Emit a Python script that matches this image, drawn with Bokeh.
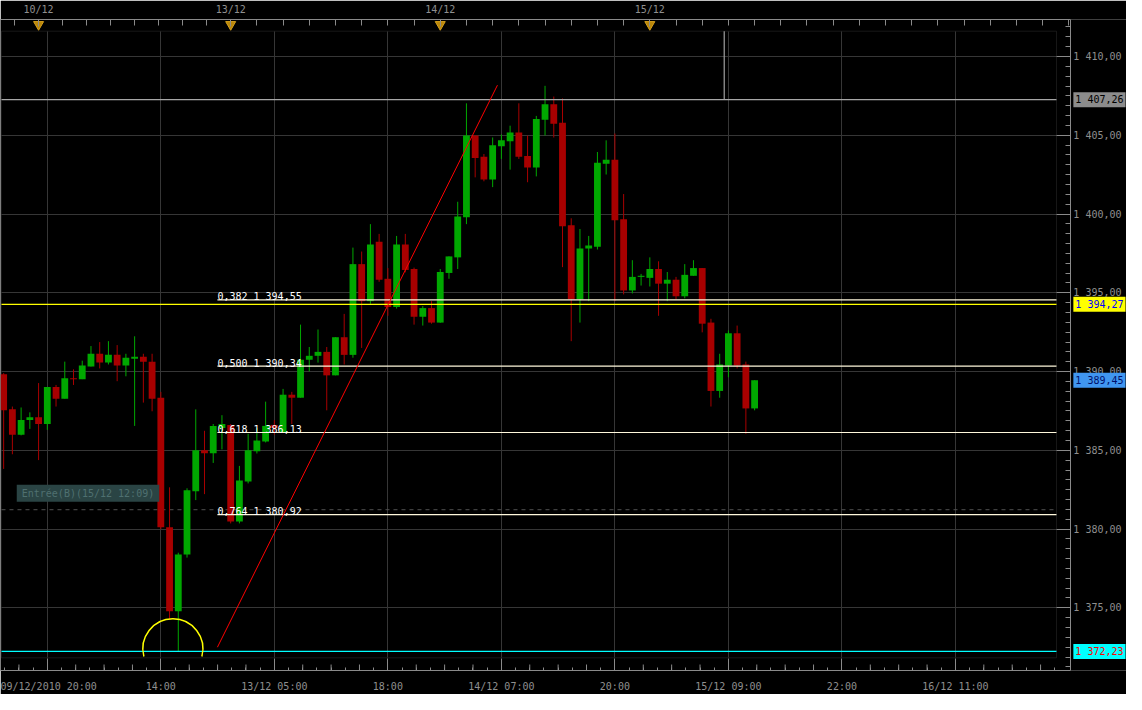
import math
from bokeh.plotting import figure
from bokeh.models import (LinearAxis, FixedTicker, Range1d, Label, BoxAnnotation,
                          ColumnDataSource, Grid)
from bokeh.embed import file_html
from bokeh.resources import INLINE

# ---------------- data (hourly candles, index 0..86) ----------------
OPEN = [1389.83, 1387.60, 1385.99, 1386.92, 1387.10, 1386.67, 1389.02, 1388.28, 1389.58, 1389.52,
        1390.32, 1391.13, 1390.57, 1391.06, 1390.38, 1390.82, 1390.94, 1390.63, 1388.34, 1380.11,
        1374.79, 1378.38, 1382.40, 1385.00, 1384.81, 1386.42, 1386.61, 1380.48, 1383.02, 1384.94,
        1385.56, 1386.61, 1386.11, 1388.53, 1388.34, 1390.75, 1391.00, 1391.25, 1389.76, 1392.18,
        1391.06, 1396.82, 1394.47, 1398.24, 1395.89, 1394.10, 1398.06, 1396.51, 1393.48, 1394.03,
        1393.11, 1396.26, 1397.25, 1399.79, 1404.99, 1403.63, 1402.20, 1404.31, 1404.62, 1405.17,
        1403.69, 1402.95, 1405.98, 1406.97, 1405.79, 1399.29, 1394.59, 1397.81, 1397.93, 1403.19,
        1403.44, 1399.67, 1395.15, 1396.01, 1395.95, 1396.51, 1395.58, 1395.83, 1394.78, 1396.08,
        1396.57, 1393.11, 1388.77, 1390.38, 1392.43, 1390.45, 1387.66]
HIGH = [1389.90, 1387.78, 1387.72, 1387.41, 1389.27, 1389.02, 1389.15, 1390.63, 1390.14, 1390.69,
        1391.62, 1391.87, 1391.93, 1391.68, 1391.13, 1392.24, 1391.13, 1391.13, 1388.71, 1382.65,
        1378.50, 1382.59, 1387.60, 1386.24, 1386.67, 1387.23, 1386.67, 1384.01, 1386.05, 1386.42,
        1388.09, 1386.92, 1388.90, 1388.71, 1392.98, 1391.56, 1392.67, 1391.56, 1392.18, 1393.66,
        1397.87, 1397.62, 1399.36, 1398.74, 1396.57, 1398.61, 1398.74, 1396.60, 1394.16, 1394.47,
        1396.51, 1397.31, 1400.78, 1407.03, 1404.99, 1403.81, 1404.86, 1405.05, 1405.61, 1407.03,
        1404.99, 1406.23, 1408.14, 1407.46, 1407.34, 1399.73, 1399.05, 1398.61, 1403.94, 1404.68,
        1405.11, 1401.27, 1397.07, 1396.20, 1397.25, 1397.00, 1396.32, 1396.01, 1396.82, 1397.07,
        1396.57, 1393.35, 1391.13, 1392.61, 1392.92, 1390.63, 1389.45]
LOW = [1383.82, 1384.75, 1385.95, 1386.36, 1384.38, 1386.30, 1387.78, 1388.28, 1389.15, 1389.52,
       1390.32, 1390.20, 1390.45, 1389.39, 1389.70, 1386.55, 1388.03, 1387.48, 1380.00, 1374.29,
       1372.23, 1378.19, 1381.84, 1382.22, 1384.20, 1385.06, 1380.36, 1380.36, 1382.90, 1384.80,
       1385.50, 1385.99, 1386.11, 1386.67, 1388.34, 1390.01, 1390.57, 1387.54, 1389.76, 1390.45,
       1390.88, 1391.50, 1394.30, 1395.70, 1393.54, 1394.00, 1396.30, 1392.98, 1392.92, 1393.04,
       1393.10, 1395.89, 1396.51, 1399.36, 1402.33, 1402.08, 1401.71, 1403.50, 1402.82, 1403.50,
       1402.02, 1402.39, 1404.99, 1404.86, 1396.63, 1391.93, 1393.11, 1394.47, 1397.75, 1402.51,
       1394.47, 1394.90, 1394.96, 1395.46, 1395.40, 1393.54, 1394.47, 1394.59, 1394.65, 1396.08,
       1392.49, 1387.78, 1388.34, 1389.64, 1390.20, 1386.05, 1387.54]
CLOSE = [1387.54, 1385.99, 1386.92, 1387.10, 1386.67, 1389.02, 1388.28, 1389.58, 1389.52, 1390.38,
         1391.13, 1390.57, 1391.06, 1390.38, 1390.88, 1390.94, 1390.63, 1388.28, 1380.11, 1374.79,
         1378.38, 1382.46, 1385.00, 1384.81, 1386.55, 1386.67, 1380.48, 1383.08, 1385.00, 1385.62,
         1386.55, 1386.42, 1388.53, 1388.34, 1390.75, 1391.00, 1391.25, 1389.76, 1392.18, 1391.06,
         1396.82, 1394.47, 1398.06, 1395.83, 1394.10, 1398.06, 1396.45, 1393.48, 1394.03, 1393.11,
         1396.32, 1397.31, 1399.85, 1404.99, 1403.56, 1402.20, 1404.37, 1404.68, 1405.17, 1403.63,
         1402.95, 1406.04, 1406.97, 1405.73, 1399.23, 1394.59, 1397.81, 1398.00, 1403.25, 1403.44,
         1399.60, 1395.15, 1396.01, 1396.08, 1396.51, 1395.58, 1395.83, 1394.78, 1396.14, 1396.57,
         1393.04, 1388.77, 1390.45, 1392.43, 1390.38, 1387.66, 1389.45]

TIME_POS = [5, 18, 31, 44, 57, 70, 83, 96, 109]
TIME_LABELS = ["09/12/2010 20:00", "14:00", "13/12 05:00", "18:00", "14/12 07:00",
               "20:00", "15/12 09:00", "22:00", "16/12 11:00"]
DAY_POS = [4, 26, 50, 74]
DAY_LABELS = ["10/12", "13/12", "14/12", "15/12"]
PRICE_TICKS = [1375, 1380, 1385, 1390, 1395, 1400, 1405, 1410]
PRICE_LABELS = ["1 375,00", "1 380,00", "1 385,00", "1 390,00",
                "1 395,00", "1 400,00", "1 405,00", "1 410,00"]

FIB_RATIOS = ["0,382", "0,500", "0,618", "0,764"]
FIB_PRICES = [1394.55, 1390.34, 1386.13, 1380.92]
FIB_START = 24.48

TREND_X = [24.48, 56.55]
TREND_Y = [1372.50, 1408.18]

MARK_PRICES = [1407.26, 1394.27, 1389.45, 1372.23]
MARK_HAS_LINE = [True, True, False, True]

ENTRY_PRICE = 1381.23
ENTRY_LABEL_PRICE = 1382.28
ENTRY_LABEL_X = 1.50
ENTRY_TEXT = "Entrée(B)(15/12 12:09)"

LOW_MARK_X = 19.38
LOW_MARK_Y = 1372.40
NOW_X = 82.52

# ---------------- styles / layout ----------------
W, H = 1126, 694
BORDER_T, BORDER_B = 18, 23
X_RANGE = (-0.361, 128.59)
AXIS_X = 122.16                      # position of the price axis line
Y_RANGE = (1371.022, 1412.351)
INNER_X = (-0.25, 120.57)
INNER_Y = (1371.827, 1411.609)
PX_PER_UNIT = (H - BORDER_T - BORDER_B) / (Y_RANGE[1] - Y_RANGE[0])

FONT = "DejaVu Sans Mono"
AXIS_COL = "#8a8a8a"
LABEL_COL = "#8f8f8f"
GRID_COL = "#363636"
UP_COL, DOWN_COL = "#00a800", "#a80000"
MARK_FILL = ["#8c8c8c", "#ffff00", "#4096f0", "#00ffff"]
MARK_TEXT_COL = ["#000000", "#0000ff", "#00106a", "#ff0000"]
MARK_LINE_COL = ["#a6a6a6", "#ffff00", None, "#00ffff"]


def fmt_price(v):
    return f"{v:,.2f}".replace(",", " ").replace(".", ",")


p = figure(width=W, height=H, x_range=Range1d(*X_RANGE), y_range=Range1d(*Y_RANGE),
           x_axis_location=None, y_axis_location=None,
           output_backend="svg", toolbar_location=None,
           background_fill_color="#000000", border_fill_color="#000000",
           outline_line_color=None,
           min_border_left=0, min_border_right=0,
           min_border_top=BORDER_T, min_border_bottom=BORDER_B)
p.grid.visible = False

# ---- grid ----
try:
    vg = Grid(dimension=0, ticker=FixedTicker(ticks=TIME_POS), cross_bounds=INNER_Y,
              grid_line_color=GRID_COL)
    hg = Grid(dimension=1, ticker=FixedTicker(ticks=PRICE_TICKS), cross_bounds=INNER_X,
              grid_line_color=GRID_COL)
    p.add_layout(vg)
    p.add_layout(hg)
except Exception:
    p.segment(x0=TIME_POS, x1=TIME_POS, y0=[INNER_Y[0]] * len(TIME_POS),
              y1=[INNER_Y[1]] * len(TIME_POS), line_color=GRID_COL, level="underlay")
    p.segment(x0=[INNER_X[0]] * len(PRICE_TICKS), x1=[INNER_X[1]] * len(PRICE_TICKS),
              y0=PRICE_TICKS, y1=PRICE_TICKS, line_color=GRID_COL, level="underlay")

p.add_layout(BoxAnnotation(left=INNER_X[0], right=INNER_X[1], bottom=INNER_Y[0], top=INNER_Y[1],
                           fill_color=None, fill_alpha=0, line_color="#4e4e4e", line_width=1,
                           level="underlay"))

# ---- entry order (dashed) ----
p.segment(x0=[INNER_X[0]], x1=[INNER_X[1]], y0=[ENTRY_PRICE], y1=[ENTRY_PRICE],
          line_color="#505050", line_width=1, line_dash="4 4")

# ---- candles ----
n = len(OPEN)
src = ColumnDataSource(dict(
    x=list(range(n)), o=OPEN, h=HIGH, l=LOW, c=CLOSE,
    top=[max(a, b) for a, b in zip(OPEN, CLOSE)],
    bot=[min(a, b) for a, b in zip(OPEN, CLOSE)],
    col=[UP_COL if c >= o else DOWN_COL for o, c in zip(OPEN, CLOSE)],
))
p.segment(x0="x", y0="h", x1="x", y1="l", line_color="col", line_width=1, source=src)
p.vbar(x="x", width=0.78, top="top", bottom="bot", fill_color="col", line_color=None, source=src)

# ---- horizontal price marks ----
for price, has, lc in zip(MARK_PRICES, MARK_HAS_LINE, MARK_LINE_COL):
    if has:
        p.segment(x0=[INNER_X[0]], x1=[INNER_X[1]], y0=[price], y1=[price],
                  line_color=lc, line_width=1.2)

# current-time vertical marker
p.segment(x0=[NOW_X], x1=[NOW_X], y0=[MARK_PRICES[0]], y1=[INNER_Y[1]],
          line_color="#a0a0a0", line_width=1.2)

# ---- fibonacci levels ----
p.segment(x0=[FIB_START] * len(FIB_PRICES), x1=[INNER_X[1]] * len(FIB_PRICES),
          y0=FIB_PRICES, y1=FIB_PRICES, line_color="#fff8dc", line_width=1.2)
for r, v in zip(FIB_RATIOS, FIB_PRICES):
    p.add_layout(Label(x=FIB_START, y=v, text=f"{r} {fmt_price(v)}", text_color="#ffffff",
                       text_font=FONT, text_font_size="10px", text_baseline="alphabetic",
                       text_align="left", y_offset=3))

# ---- trend line & low marker ----
p.line(TREND_X, TREND_Y, line_color="#ff0000", line_width=1)
p.arc(x=[LOW_MARK_X], y=[LOW_MARK_Y], radius=30, radius_units="screen",
      start_angle=-0.26, end_angle=math.pi + 0.26, line_color="#ffff00", line_width=1.5)

# ---- day markers (triangles on the top strip) ----
p.scatter(x=DAY_POS, y=[Y_RANGE[1] - 5.0 / PX_PER_UNIT] * len(DAY_POS),
          marker="inverted_triangle", size=10, fill_color="#b8860b", line_color="#d9a21c")


def make_label(**kw):
    try:
        return Label(**kw)
    except Exception:
        kw["padding"] = 3
        return Label(**kw)


# entry label
p.add_layout(make_label(x=ENTRY_LABEL_X, y=ENTRY_LABEL_PRICE, text=ENTRY_TEXT,
                        text_color="#4f7070", text_font=FONT, text_font_size="10px",
                        text_baseline="middle", text_align="left",
                        background_fill_color="#2a4444",
                        padding=dict(left=5, right=5, top=3, bottom=3)))

# ---- axes ----
# right price axis (fixed at AXIS_X so the price boxes can sit inside the frame)
yax = LinearAxis(fixed_location=AXIS_X,
                 ticker=FixedTicker(ticks=PRICE_TICKS,
                                    minor_ticks=[1370 + 0.625 * k for k in range(69)]),
                 major_label_overrides=dict(zip(PRICE_TICKS, PRICE_LABELS)),
                 axis_line_color=AXIS_COL, major_tick_line_color=AXIS_COL,
                 minor_tick_line_color=AXIS_COL,
                 major_tick_in=14, major_tick_out=0, minor_tick_in=5, minor_tick_out=0,
                 major_label_standoff=3, major_label_text_font=FONT,
                 major_label_text_font_size="10px", major_label_text_color=LABEL_COL)
p.add_layout(yax, "right")

# top axis: day labels, 3-hourly minor ticks
TOP_MINOR = ([1.25, 6.75, 9.5, 12.25, 15, 17.75, 20.5, 23.25]
             + [26 + 3 * k for k in range(1, 33) if (26 + 3 * k) not in DAY_POS])
top = LinearAxis(ticker=FixedTicker(ticks=DAY_POS, minor_ticks=TOP_MINOR),
                 bounds=(X_RANGE[0], AXIS_X),
                 major_label_overrides=dict(zip(DAY_POS, DAY_LABELS)),
                 axis_line_color=AXIS_COL, major_tick_line_color=AXIS_COL,
                 minor_tick_line_color=AXIS_COL,
                 major_tick_in=7, major_tick_out=0, minor_tick_in=6, minor_tick_out=0,
                 major_label_standoff=5, major_label_text_font=FONT,
                 major_label_text_font_size="10px", major_label_text_color=LABEL_COL)
p.add_layout(top, "above")

# bottom axis: time labels, fine minor ticks
BOT_MINOR = [5 + 1.625 * k for k in range(-3, 72)]
bot = LinearAxis(ticker=FixedTicker(ticks=TIME_POS, minor_ticks=BOT_MINOR),
                 bounds=(X_RANGE[0], AXIS_X),
                 major_label_overrides=dict(zip(TIME_POS, TIME_LABELS)),
                 axis_line_color=AXIS_COL, major_tick_line_color=AXIS_COL,
                 minor_tick_line_color=AXIS_COL,
                 major_tick_in=12, major_tick_out=0, minor_tick_in=3, minor_tick_out=0,
                 major_label_standoff=10, major_label_text_font=FONT,
                 major_label_text_font_size="10px", major_label_text_color=LABEL_COL)
p.add_layout(bot, "below")

# medium (quarter) ticks on the time axis
BOT_MID = [5 + 3.25 * k for k in range(-1, 36) if k % 4 != 0]
p.segment(x0=BOT_MID, x1=BOT_MID, y0=[Y_RANGE[0]] * len(BOT_MID),
          y1=[Y_RANGE[0] + 6.0 / PX_PER_UNIT] * len(BOT_MID), line_color=AXIS_COL, line_width=1)

# ---- price boxes on the right axis ----
for price, fill, tc in zip(MARK_PRICES, MARK_FILL, MARK_TEXT_COL):
    p.add_layout(make_label(x=AXIS_X, y=price, x_offset=3, text=fmt_price(price),
                            text_color=tc, text_font=FONT, text_font_size="10px",
                            text_baseline="middle", text_align="left",
                            background_fill_color=fill, padding=2))

with open("out.html", "w", encoding="utf-8") as f:
    f.write(file_html(p, INLINE, title="chart"))
